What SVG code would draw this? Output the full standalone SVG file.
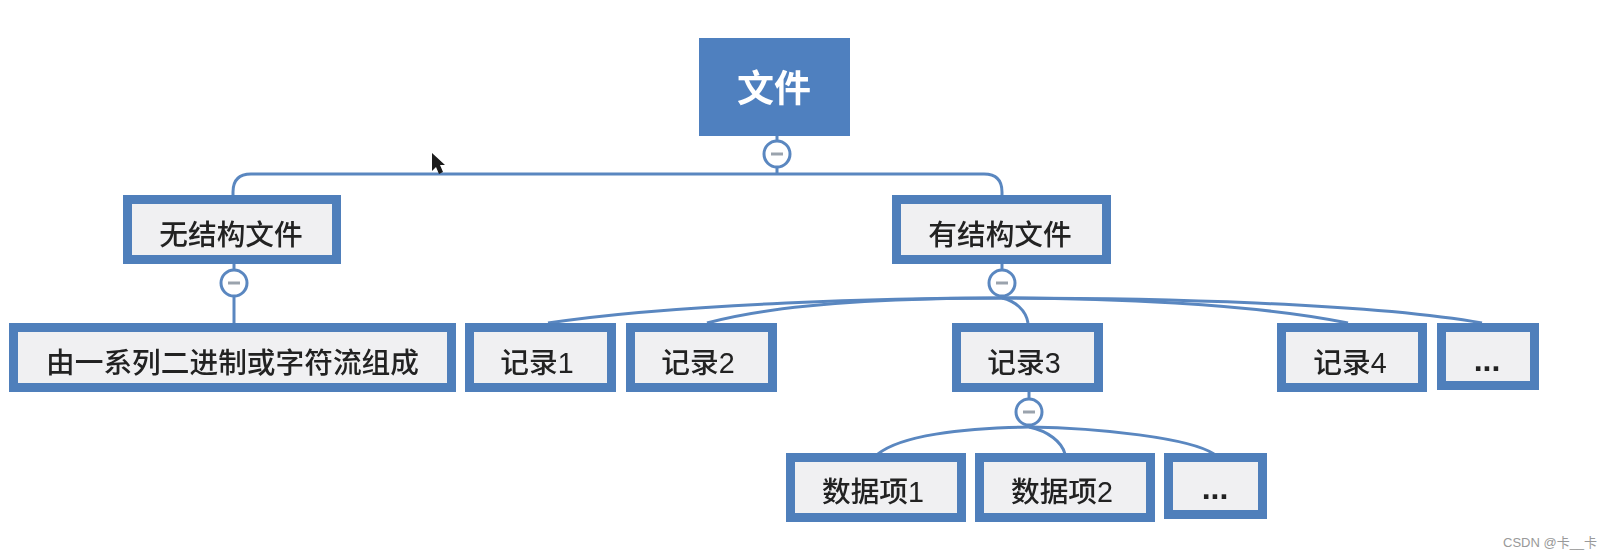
<svg xmlns="http://www.w3.org/2000/svg" width="1611" height="558" viewBox="0 0 1611 558">
<style>
.n{fill:#f0f0f2;stroke:#4f7fbb;stroke-width:9}
.t{font-family:"Liberation Sans","Noto Sans CJK SC",sans-serif;font-size:28.7px;font-weight:500;fill:#222;text-anchor:middle}
.d{font-size:32px;font-weight:700}
.c{fill:none;stroke:#5a87c0;stroke-width:3}
.k{fill:#fff;stroke:#5a87c0;stroke-width:3}
.m{stroke:#9aa3ad;stroke-width:3}
</style>
<defs><filter id="b" x="-2%" y="-2%" width="104%" height="104%"><feGaussianBlur stdDeviation="0.7"/></filter></defs>
<rect width="1611" height="558" fill="#fff"/>
<g filter="url(#b)">
<g id="connectors">
<path class="c" d="M777 136V174M233 195V192Q233 174 251 174H984Q1002 174 1002 192V195"/>
<path class="c" d="M234 264V323"/>
<path class="c" d="M1002 264V298"/>
<path class="c" d="M1002 298C900 298 680 303 548 323"/>
<path class="c" d="M1002 298C900 298 780 303 707 323"/>
<path class="c" d="M1002 298C1015 301 1026 310 1028 323"/>
<path class="c" d="M1002 298C1100 298 1250 303 1348 323"/>
<path class="c" d="M1002 298C1150 298 1370 303 1482 323"/>
<path class="c" d="M1029 392V427"/>
<path class="c" d="M1029 427C960 428 900 436 878 454"/>
<path class="c" d="M1029 427C1048 431 1062 442 1065 454"/>
<path class="c" d="M1029 427C1100 428 1190 438 1214 454"/>
</g>
<g id="root"><rect x="699" y="38" width="151" height="98" fill="#5080bf"/><text x="774" y="102" style="font-family:'Liberation Sans','Noto Sans CJK SC',sans-serif;font-size:37px;font-weight:700;fill:#fff;text-anchor:middle">文件</text></g>
<g id="toggle-root"><circle class="k" cx="777" cy="154" r="13"/><path class="m" d="M771 154H783"/></g>
<g id="unstructured"><rect class="n" x="127.500" y="199.500" width="209" height="60"/><text class="t" x="231" y="245">无结构文件</text></g>
<g id="toggle-unstructured"><circle class="k" cx="234" cy="283" r="13"/><path class="m" d="M228 283H240"/></g>
<g id="structured"><rect class="n" x="896.500" y="199.500" width="210" height="60"/><text class="t" x="1000" y="245">有结构文件</text></g>
<g id="toggle-structured"><circle class="k" cx="1002" cy="283" r="13"/><path class="m" d="M996 283H1008"/></g>
<g id="stream"><rect class="n" x="13.500" y="327.500" width="438" height="60"/><text class="t" x="232.500" y="373">由一系列二进制或字符流组成</text></g>
<g id="record1"><rect class="n" x="469.500" y="327.500" width="142" height="60"/><text class="t" x="537" y="373">记录1</text></g>
<g id="record2"><rect class="n" x="630.500" y="327.500" width="142" height="60"/><text class="t" x="698" y="373">记录2</text></g>
<g id="record3"><rect class="n" x="956.500" y="327.500" width="142" height="60"/><text class="t" x="1024" y="373">记录3</text></g>
<g id="toggle-record3"><circle class="k" cx="1029" cy="412" r="13"/><path class="m" d="M1023 412H1035"/></g>
<g id="record4"><rect class="n" x="1281.500" y="327.500" width="141" height="60"/><text class="t" x="1350" y="373">记录4</text></g>
<g id="recordmore"><rect class="n" x="1441.500" y="327.500" width="93" height="58"/><text class="t d" x="1487" y="371">...</text></g>
<g id="item1"><rect class="n" x="790.500" y="457.500" width="171" height="60"/><text class="t" x="873" y="502">数据项1</text></g>
<g id="item2"><rect class="n" x="979.500" y="457.500" width="171" height="60"/><text class="t" x="1062" y="502">数据项2</text></g>
<g id="itemmore"><rect class="n" x="1168.500" y="457.500" width="94" height="57"/><text class="t d" x="1215" y="499">...</text></g>
<path d="M432 153L432 171L436 167L439 174L443 172L440 165L445 165Z" fill="#1a1a1a"/>
</g>
<text x="1503" y="547" style="font-family:'Liberation Sans','Noto Sans CJK SC',sans-serif;font-size:13px;fill:#999">CSDN @卡__卡</text>
</svg>
